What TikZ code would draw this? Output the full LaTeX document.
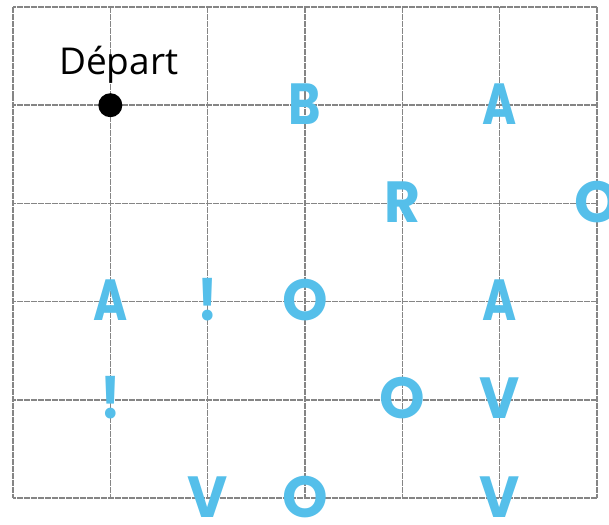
\documentclass[tikz,border=0pt]{standalone}
\usepackage{fontspec}
\setmainfont{Open Sans}
\newfontfamily\letterfont{Poppins}
\definecolor{lettercyan}{HTML}{55BFEA}
\definecolor{gridgray}{HTML}{858585}
\tikzset{
  gridline/.style={draw=gridgray, line width=1.6pt, dash pattern=on 3pt off 0.5pt},
  letter/.style={text=lettercyan, inner sep=0pt, anchor=base, font=\letterfont\bfseries\fontsize{58}{58}\selectfont},
  startdot/.style={circle, fill=black, inner sep=0pt, minimum size=24pt},
  startlabel/.style={inner sep=0pt, anchor=base west, font=\fontsize{37}{37}\selectfont}
}
\begin{document}
\begin{tikzpicture}[x=1pt,y=-1pt]
\useasboundingbox (0,0) rectangle (609,524);
\clip (0,0) rectangle (609,524);
\def\gx{97.33}
\def\gy{98.2}
% grid
\foreach \i in {0,...,6} {
  \draw[gridline] ({13+\i*\gx},7) -- ({13+\i*\gx},498);
}
\foreach \j in {0,...,5} {
  \draw[gridline] (13,{7+\j*\gy}) -- (597,{7+\j*\gy});
}
% start
\node[startdot] (start) at ({13+\gx},{7+\gy}) {};
\node[startlabel] (depart) at (59,75) {Départ};
% letters: (col,row,name,xscale,text)
\foreach \c/\r/\n/\s/\t in {3/1/b1/0.85/B, 5/1/a1/0.8/A, 4/2/r1/0.95/R, 6/2/o1/1/O, 1/3/a2/0.8/A, 2/3/x1/0.9/!, 3/3/o2/1/O, 5/3/a3/0.8/A, 1/4/x2/0.9/!, 4/4/o3/1/O, 5/4/v1/0.95/V, 2/5/v2/0.95/V, 3/5/o4/1/O, 5/5/v3/0.95/V} {
  \node[letter, xscale=\s] (\n) at ({13+\c*\gx},{7+\r*\gy+19}) {\t};
}
\end{tikzpicture}
\end{document}
